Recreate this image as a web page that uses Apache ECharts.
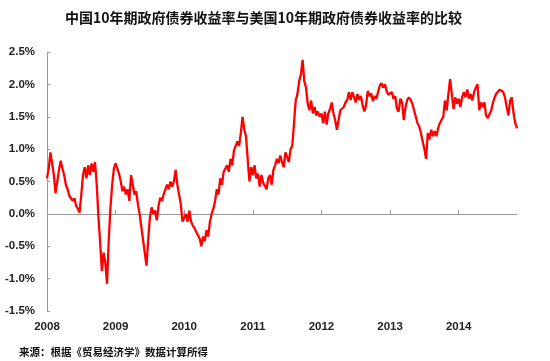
<!DOCTYPE html>
<html><head><meta charset="utf-8">
<script src="https://cdn.jsdelivr.net/npm/echarts@6/dist/echarts.min.js"></script>
<style>html,body{margin:0;padding:0;background:#fff}#c{width:550px;height:361px}</style>
</head><body><div id="c"></div>
<script>
const titleText = '中国10年期政府债券收益率与美国10年期政府债券收益率的比较';
const sourceText = '来源：根据《贸易经济学》数据计算所得';
const yearTicks = [2008, 2009, 2010, 2011, 2012, 2013, 2014];
const innerTicks = [2009, 2010, 2011, 2012, 2013, 2014];
const pointsPerYear = 40;

const y2008 = [0.55,0.7,0.95,0.78,0.6,0.32,0.5,0.68,0.82,0.7,0.6,0.45,0.38,0.28,0.3,0.2,0.24,0.12,0.08,0.02,
  0.3,0.6,0.72,0.55,0.75,0.6,0.78,0.65,0.8,0.45,-0.05,-0.45,-0.88,-0.6,-0.75,-1.08,-0.4,0.1,0.45,0.7];
const y2009 = [0.78,0.75,0.62,0.5,0.35,0.42,0.3,0.38,0.2,0.6,0.45,0.3,0.35,0.15,0.0,-0.2,-0.4,-0.6,-0.8,-0.4,
  -0.05,0.1,0.0,0.05,-0.1,0.12,0.25,0.2,0.3,0.28,0.45,0.38,0.5,0.42,0.5,0.68,0.45,0.3,0.15,-0.12];
const y2010 = [-0.15,0.0,-0.12,0.05,-0.12,-0.18,-0.22,-0.28,-0.3,-0.38,-0.5,-0.35,-0.42,-0.25,-0.35,-0.12,0.0,0.08,0.2,0.38,
  0.3,0.55,0.45,0.65,0.7,0.75,0.65,0.85,0.75,0.98,1.05,1.12,1.05,1.25,1.5,1.3,1.2,0.85,0.5,0.72];
const y2011 = [0.6,0.75,0.55,0.62,0.42,0.6,0.48,0.5,0.38,0.55,0.6,0.45,0.68,0.75,0.85,0.78,0.9,0.8,0.72,0.95,
  0.88,0.8,1.0,1.05,1.4,1.75,1.85,2.05,2.15,2.38,2.05,1.95,1.7,1.6,1.75,1.55,1.65,1.52,1.58,1.5];
const y2012 = [1.55,1.4,1.58,1.38,1.55,1.62,1.72,1.55,1.45,1.3,1.45,1.6,1.58,1.65,1.72,1.76,1.88,1.76,1.88,1.8,
  1.72,1.85,1.76,1.82,1.68,1.58,1.68,1.9,1.82,1.86,1.74,1.82,1.78,1.88,1.98,2.02,1.95,2.0,1.9,1.84];
const y2013 = [1.85,1.88,1.78,1.82,1.62,1.58,1.78,1.72,1.45,1.65,1.76,1.8,1.76,1.7,1.6,1.5,1.4,1.35,1.25,1.12,
  1.0,0.85,1.25,1.15,1.3,1.2,1.28,1.2,1.32,1.4,1.45,1.5,1.75,1.6,1.85,2.08,1.85,1.62,1.8,1.7];
const y2014 = [1.78,1.65,1.8,1.88,1.8,1.92,1.78,1.85,1.75,1.88,1.95,2.0,1.6,1.72,1.65,1.72,1.52,1.48,1.5,1.6,
  1.72,1.8,1.86,1.88,1.92,1.9,1.88,1.8,1.65,1.52,1.75,1.8,1.55,1.4,1.32];

const yearBlocks = [[2008,y2008],[2009,y2009],[2010,y2010],[2011,y2011],[2012,y2012],[2013,y2013],[2014,y2014]];
const data = [];
yearBlocks.forEach(([yr, arr]) => arr.forEach((v, i) => data.push([yr + i / pointsPerYear, v])));
const xMax = 2014 + (y2014.length - 1) / pointsPerYear;

const chart = echarts.init(document.getElementById('c'), null, {renderer: 'canvas'});
const labelFont = {fontFamily: 'Liberation Sans', fontWeight: 'bold', fontSize: 11.5, color: '#222'};
chart.setOption({
  animation: false,
  backgroundColor: '#fff',
  title: [{
    text: titleText, left: 60, top: 6,
    textStyle: {fontFamily: 'Noto Sans CJK SC', fontWeight: 'bold', fontSize: 14, color: '#111'}
  }, {
    text: sourceText, left: 14, top: 342,
    textStyle: {fontFamily: 'Noto Sans CJK SC', fontWeight: 'bold', fontSize: 10.5, color: '#111'}
  }],
  grid: {left: 47, right: 33, top: 52, bottom: 50},
  xAxis: [{
    type: 'value', min: 2008, max: xMax, position: 'bottom',
    axisLine: {show: false, onZero: false}, axisTick: {show: false}, splitLine: {show: false},
    axisLabel: Object.assign({customValues: yearTicks, margin: 10, formatter: v => String(Math.round(v))}, labelFont)
  }, {
    type: 'value', min: 2008, max: xMax, position: 'top',
    axisLine: {show: true, onZero: true, lineStyle: {color: '#999', width: 1}},
    axisTick: {show: true, customValues: innerTicks, length: 4, lineStyle: {color: '#999'}},
    axisLabel: {show: false}, splitLine: {show: false}
  }],
  yAxis: {
    type: 'value', min: -1.5, max: 2.5, interval: 0.5,
    axisLine: {show: true, lineStyle: {color: '#999', width: 1}},
    axisTick: {show: true, inside: true, length: 3, lineStyle: {color: '#999'}},
    splitLine: {show: false},
    axisLabel: Object.assign({margin: 12, formatter: v => v.toFixed(1) + '%'}, labelFont)
  },
  series: [{
    type: 'line', xAxisIndex: 0, data: data, showSymbol: false, symbol: 'none',
    lineStyle: {color: '#ff0000', width: 2.3}, itemStyle: {color: '#ff0000'}
  }]
});
</script></body></html>
